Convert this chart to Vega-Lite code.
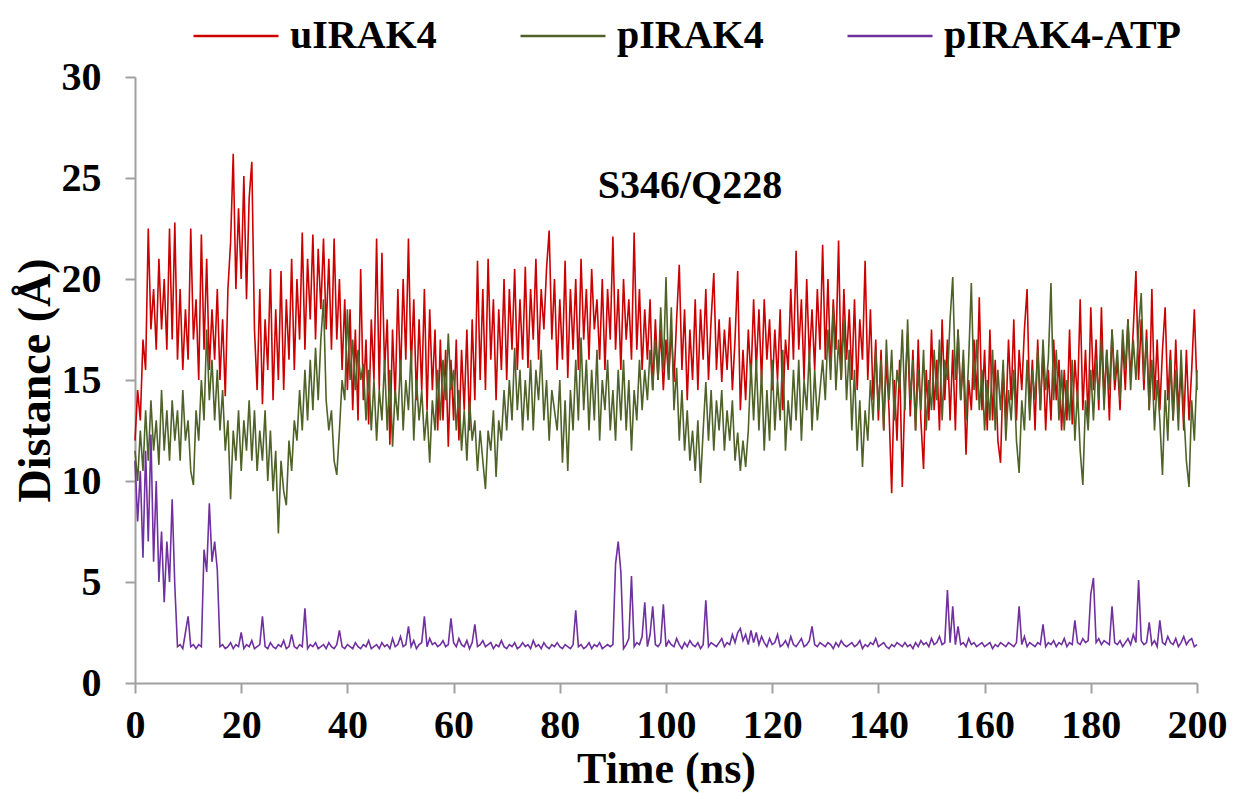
{
"$schema": "https://vega.github.io/schema/vega-lite/v6.json",
"width": 1062, "height": 606,
"autosize": {"type": "none"},
"padding": {"left": 135, "top": 77, "right": 36, "bottom": 110},
"background": "white",
"config": {"view": {"stroke": null}, "font": "Liberation Serif"},
"layer": [
{
"data": {"values": [
{"t":0,"u":12.0,"p":11.5,"a":11.0},{"t":0.5,"u":14.5,"p":10.0,"a":8.0},{"t":1,"u":13.0,"p":12.5,"a":10.5},{"t":1.5,"u":17.0,"p":10.5,"a":6.2},{"t":2,"u":15.5,"p":13.5,"a":11.5},{"t":2.5,"u":22.5,"p":11.0,"a":7.0},{"t":3,"u":17.5,"p":14.0,"a":12.3},{"t":3.5,"u":19.5,"p":11.5,"a":6.0},{"t":4,"u":16.5,"p":13.0,"a":10.0},{"t":4.5,"u":21.0,"p":10.8,"a":5.0},
{"t":5,"u":17.5,"p":14.5,"a":7.5},{"t":5.5,"u":20.0,"p":11.5,"a":4.0},{"t":6,"u":16.5,"p":13.5,"a":7.0},{"t":6.5,"u":22.5,"p":11.0,"a":5.0},{"t":7,"u":17.0,"p":14.0,"a":9.1},{"t":7.5,"u":22.8,"p":12.0,"a":4.8},{"t":8,"u":16.0,"p":13.5,"a":1.8},{"t":8.5,"u":19.5,"p":11.0,"a":1.9},{"t":9,"u":15.5,"p":14.5,"a":1.7},{"t":9.5,"u":18.5,"p":12.0,"a":2.5},
{"t":10,"u":16.0,"p":13.0,"a":3.3},{"t":10.5,"u":22.5,"p":10.5,"a":1.8},{"t":11,"u":17.0,"p":9.8,"a":1.9},{"t":11.5,"u":19.0,"p":13.5,"a":1.7},{"t":12,"u":15.0,"p":12.0,"a":1.9},{"t":12.5,"u":22.2,"p":15.0,"a":1.8},{"t":13,"u":16.5,"p":13.0,"a":6.6},{"t":13.5,"u":21.0,"p":17.5,"a":5.5},{"t":14,"u":15.5,"p":14.0,"a":8.9},{"t":14.5,"u":18.5,"p":16.0,"a":6.0},
{"t":15,"u":16.0,"p":13.0,"a":7.0},{"t":15.5,"u":19.5,"p":15.5,"a":5.6},{"t":16,"u":15.0,"p":12.5,"a":1.8},{"t":16.5,"u":18.0,"p":14.5,"a":1.9},{"t":17,"u":14.2,"p":11.5,"a":1.7},{"t":17.5,"u":19.5,"p":13.0,"a":1.8},{"t":18,"u":21.8,"p":9.1,"a":2.0},{"t":18.5,"u":26.2,"p":12.5,"a":1.7},{"t":19,"u":19.5,"p":11.0,"a":1.9},{"t":19.5,"u":23.5,"p":13.5,"a":1.8},
{"t":20,"u":20.0,"p":10.5,"a":2.5},{"t":20.5,"u":25.1,"p":13.0,"a":1.7},{"t":21,"u":19.0,"p":11.5,"a":1.9},{"t":21.5,"u":24.0,"p":14.0,"a":1.8},{"t":22,"u":25.8,"p":11.0,"a":2.1},{"t":22.5,"u":17.5,"p":13.5,"a":1.7},{"t":23,"u":14.5,"p":10.5,"a":1.8},{"t":23.5,"u":19.5,"p":12.5,"a":1.9},{"t":24,"u":13.8,"p":11.0,"a":3.3},{"t":24.5,"u":18.0,"p":13.5,"a":1.8},
{"t":25,"u":15.5,"p":10.0,"a":1.7},{"t":25.5,"u":20.5,"p":12.5,"a":2.0},{"t":26,"u":14.0,"p":9.5,"a":1.8},{"t":26.5,"u":18.5,"p":11.5,"a":1.7},{"t":27,"u":15.0,"p":7.4,"a":1.9},{"t":27.5,"u":20.4,"p":11.0,"a":1.8},{"t":28,"u":14.5,"p":9.5,"a":2.1},{"t":28.5,"u":19.0,"p":8.8,"a":1.7},{"t":29,"u":16.0,"p":12.0,"a":1.8},{"t":29.5,"u":21.0,"p":10.5,"a":2.4},
{"t":30,"u":15.5,"p":13.0,"a":1.8},{"t":30.5,"u":20.0,"p":12.0,"a":1.7},{"t":31,"u":17.0,"p":14.5,"a":1.9},{"t":31.5,"u":22.3,"p":12.5,"a":1.8},{"t":32,"u":16.5,"p":15.5,"a":3.7},{"t":32.5,"u":21.0,"p":13.0,"a":1.7},{"t":33,"u":18.0,"p":16.0,"a":1.9},{"t":33.5,"u":22.2,"p":13.5,"a":1.8},{"t":34,"u":17.0,"p":16.6,"a":2.0},{"t":34.5,"u":21.5,"p":14.0,"a":1.7},
{"t":35,"u":18.5,"p":17.0,"a":1.8},{"t":35.5,"u":22.0,"p":19.0,"a":1.9},{"t":36,"u":17.5,"p":14.0,"a":1.7},{"t":36.5,"u":21.0,"p":12.5,"a":2.0},{"t":37,"u":16.5,"p":13.5,"a":1.8},{"t":37.5,"u":22.0,"p":11.0,"a":1.7},{"t":38,"u":17.0,"p":10.3,"a":1.9},{"t":38.5,"u":20.0,"p":12.5,"a":2.6},{"t":39,"u":15.5,"p":15.0,"a":1.8},{"t":39.5,"u":19.0,"p":14.0,"a":1.7},
{"t":40,"u":14.5,"p":18.5,"a":1.9},{"t":40.5,"u":18.5,"p":15.0,"a":1.8},{"t":41,"u":13.5,"p":17.0,"a":1.7},{"t":41.5,"u":17.5,"p":14.5,"a":2.0},{"t":42,"u":13.0,"p":16.5,"a":1.8},{"t":42.5,"u":20.5,"p":15.0,"a":1.7},{"t":43,"u":14.0,"p":15.8,"a":1.9},{"t":43.5,"u":17.0,"p":13.0,"a":1.8},{"t":44,"u":12.8,"p":15.5,"a":2.1},{"t":44.5,"u":18.0,"p":12.5,"a":1.7},
{"t":45,"u":15.0,"p":15.0,"a":1.8},{"t":45.5,"u":22.0,"p":12.0,"a":1.9},{"t":46,"u":14.5,"p":14.5,"a":1.7},{"t":46.5,"u":21.3,"p":13.0,"a":2.0},{"t":47,"u":15.5,"p":16.0,"a":1.8},{"t":47.5,"u":18.0,"p":12.5,"a":1.9},{"t":48,"u":11.8,"p":15.5,"a":1.7},{"t":48.5,"u":17.5,"p":11.7,"a":2.2},{"t":49,"u":14.0,"p":14.5,"a":1.8},{"t":49.5,"u":19.5,"p":13.0,"a":1.9},
{"t":50,"u":15.0,"p":16.0,"a":2.3},{"t":50.5,"u":20.0,"p":12.5,"a":1.8},{"t":51,"u":16.0,"p":15.0,"a":1.9},{"t":51.5,"u":22.0,"p":13.5,"a":2.8},{"t":52,"u":15.5,"p":16.5,"a":1.8},{"t":52.5,"u":19.0,"p":12.0,"a":2.1},{"t":53,"u":14.0,"p":15.0,"a":1.7},{"t":53.5,"u":18.0,"p":13.0,"a":1.9},{"t":54,"u":14.5,"p":14.5,"a":2.0},{"t":54.5,"u":19.5,"p":12.0,"a":3.3},
{"t":55,"u":13.5,"p":13.5,"a":1.8},{"t":55.5,"u":18.5,"p":10.9,"a":2.2},{"t":56,"u":14.5,"p":14.0,"a":1.9},{"t":56.5,"u":17.5,"p":12.5,"a":2.0},{"t":57,"u":12.5,"p":15.5,"a":1.8},{"t":57.5,"u":17.0,"p":13.0,"a":1.9},{"t":58,"u":13.0,"p":16.0,"a":2.1},{"t":58.5,"u":16.5,"p":14.0,"a":1.8},{"t":59,"u":11.7,"p":17.3,"a":1.9},{"t":59.5,"u":16.0,"p":14.5,"a":3.2},
{"t":60,"u":13.0,"p":15.5,"a":2.0},{"t":60.5,"u":17.0,"p":12.5,"a":1.8},{"t":61,"u":12.0,"p":14.5,"a":2.2},{"t":61.5,"u":16.5,"p":11.5,"a":1.9},{"t":62,"u":13.5,"p":13.5,"a":1.8},{"t":62.5,"u":17.5,"p":11.0,"a":2.1},{"t":63,"u":12.5,"p":14.0,"a":1.7},{"t":63.5,"u":18.0,"p":12.0,"a":2.0},{"t":64,"u":14.0,"p":13.0,"a":2.9},{"t":64.5,"u":20.9,"p":10.5,"a":1.8},
{"t":65,"u":15.0,"p":12.5,"a":1.9},{"t":65.5,"u":19.5,"p":11.0,"a":2.1},{"t":66,"u":14.5,"p":9.6,"a":1.8},{"t":66.5,"u":21.0,"p":12.5,"a":1.9},{"t":67,"u":16.0,"p":11.5,"a":2.0},{"t":67.5,"u":19.0,"p":13.5,"a":1.7},{"t":68,"u":14.0,"p":10.2,"a":1.9},{"t":68.5,"u":18.5,"p":13.0,"a":1.8},{"t":69,"u":15.5,"p":12.0,"a":2.1},{"t":69.5,"u":20.0,"p":14.5,"a":1.8},
{"t":70,"u":15.0,"p":12.5,"a":1.7},{"t":70.5,"u":19.5,"p":15.0,"a":1.9},{"t":71,"u":16.5,"p":13.0,"a":1.8},{"t":71.5,"u":20.5,"p":16.6,"a":2.0},{"t":72,"u":15.5,"p":13.5,"a":1.7},{"t":72.5,"u":19.0,"p":15.5,"a":1.8},{"t":73,"u":16.0,"p":12.5,"a":2.0},{"t":73.5,"u":20.6,"p":15.0,"a":1.8},{"t":74,"u":15.6,"p":13.0,"a":1.9},{"t":74.5,"u":19.5,"p":16.0,"a":1.7},
{"t":75,"u":17.0,"p":12.5,"a":2.1},{"t":75.5,"u":21.0,"p":15.5,"a":1.8},{"t":76,"u":16.0,"p":14.0,"a":1.9},{"t":76.5,"u":19.5,"p":16.5,"a":1.7},{"t":77,"u":17.5,"p":13.0,"a":2.0},{"t":77.5,"u":20.5,"p":15.0,"a":1.8},{"t":78,"u":22.4,"p":12.0,"a":1.7},{"t":78.5,"u":17.0,"p":14.5,"a":1.9},{"t":79,"u":20.0,"p":13.5,"a":1.8},{"t":79.5,"u":15.5,"p":12.5,"a":2.0},
{"t":80,"u":19.0,"p":15.0,"a":1.8},{"t":80.5,"u":16.0,"p":10.9,"a":1.7},{"t":81,"u":20.9,"p":14.0,"a":1.9},{"t":81.5,"u":15.1,"p":10.5,"a":1.8},{"t":82,"u":19.5,"p":14.5,"a":1.7},{"t":82.5,"u":16.5,"p":12.5,"a":1.9},{"t":83,"u":20.0,"p":16.0,"a":3.6},{"t":83.5,"u":15.5,"p":13.0,"a":1.8},{"t":84,"u":21.0,"p":17.1,"a":1.9},{"t":84.5,"u":17.0,"p":13.5,"a":1.7},
{"t":85,"u":19.5,"p":16.0,"a":1.8},{"t":85.5,"u":16.0,"p":12.5,"a":2.0},{"t":86,"u":20.5,"p":15.5,"a":1.7},{"t":86.5,"u":17.5,"p":13.0,"a":1.9},{"t":87,"u":19.0,"p":16.5,"a":1.8},{"t":87.5,"u":16.0,"p":12.0,"a":2.0},{"t":88,"u":20.0,"p":15.0,"a":1.7},{"t":88.5,"u":15.5,"p":13.5,"a":1.8},{"t":89,"u":19.5,"p":16.0,"a":1.9},{"t":89.5,"u":17.0,"p":12.5,"a":1.8},
{"t":90,"u":22.1,"p":14.5,"a":1.9},{"t":90.5,"u":16.5,"p":12.0,"a":5.9},{"t":91,"u":19.5,"p":15.5,"a":7.0},{"t":91.5,"u":15.5,"p":13.0,"a":5.5},{"t":92,"u":20.0,"p":16.0,"a":1.7},{"t":92.5,"u":17.0,"p":12.5,"a":1.9},{"t":93,"u":19.0,"p":15.0,"a":2.2},{"t":93.5,"u":16.0,"p":11.5,"a":5.3},{"t":94,"u":22.3,"p":14.5,"a":1.8},{"t":94.5,"u":16.5,"p":13.0,"a":2.0},
{"t":95,"u":19.5,"p":16.0,"a":1.9},{"t":95.5,"u":15.5,"p":13.5,"a":2.3},{"t":96,"u":18.5,"p":15.5,"a":4.0},{"t":96.5,"u":16.0,"p":14.0,"a":1.8},{"t":97,"u":19.0,"p":16.5,"a":2.4},{"t":97.5,"u":14.5,"p":14.5,"a":3.8},{"t":98,"u":18.0,"p":17.0,"a":1.9},{"t":98.5,"u":15.0,"p":15.0,"a":1.8},{"t":99,"u":17.5,"p":18.6,"a":2.0},{"t":99.5,"u":14.5,"p":15.5,"a":3.9},
{"t":100,"u":17.0,"p":20.1,"a":1.8},{"t":100.5,"u":15.0,"p":15.0,"a":2.1},{"t":101,"u":17.5,"p":18.6,"a":1.9},{"t":101.5,"u":14.9,"p":13.5,"a":1.8},{"t":102,"u":18.0,"p":15.6,"a":2.2},{"t":102.5,"u":20.7,"p":12.0,"a":1.9},{"t":103,"u":15.5,"p":14.5,"a":1.7},{"t":103.5,"u":18.5,"p":11.5,"a":2.0},{"t":104,"u":14.0,"p":13.5,"a":1.8},{"t":104.5,"u":17.5,"p":11.0,"a":2.1},
{"t":105,"u":15.0,"p":12.5,"a":1.9},{"t":105.5,"u":19.0,"p":10.5,"a":1.8},{"t":106,"u":14.5,"p":13.0,"a":2.0},{"t":106.5,"u":18.5,"p":9.9,"a":1.7},{"t":107,"u":16.0,"p":12.5,"a":1.9},{"t":107.5,"u":19.5,"p":14.9,"a":4.1},{"t":108,"u":15.0,"p":12.0,"a":1.8},{"t":108.5,"u":18.0,"p":14.5,"a":2.0},{"t":109,"u":20.3,"p":11.5,"a":1.9},{"t":109.5,"u":15.5,"p":14.0,"a":1.8},
{"t":110,"u":18.0,"p":12.5,"a":2.0},{"t":110.5,"u":14.9,"p":14.5,"a":2.2},{"t":111,"u":17.5,"p":11.5,"a":1.8},{"t":111.5,"u":15.5,"p":13.5,"a":2.0},{"t":112,"u":18.1,"p":12.0,"a":1.9},{"t":112.5,"u":14.5,"p":14.0,"a":2.4},{"t":113,"u":17.0,"p":11.0,"a":2.0},{"t":113.5,"u":20.4,"p":12.4,"a":2.5},{"t":114,"u":13.5,"p":10.5,"a":2.7},{"t":114.5,"u":16.5,"p":12.0,"a":2.1},
{"t":115,"u":14.0,"p":10.7,"a":2.4},{"t":115.5,"u":17.5,"p":12.5,"a":1.9},{"t":116,"u":15.0,"p":15.8,"a":2.6},{"t":116.5,"u":19.0,"p":13.0,"a":2.0},{"t":117,"u":15.5,"p":16.0,"a":2.5},{"t":117.5,"u":18.5,"p":12.5,"a":1.9},{"t":118,"u":14.9,"p":15.5,"a":2.3},{"t":118.5,"u":19.0,"p":11.5,"a":2.0},{"t":119,"u":16.0,"p":14.5,"a":1.8},{"t":119.5,"u":18.0,"p":12.0,"a":2.2},
{"t":120,"u":14.5,"p":16.0,"a":1.9},{"t":120.5,"u":17.5,"p":12.5,"a":2.0},{"t":121,"u":15.0,"p":15.0,"a":2.4},{"t":121.5,"u":18.5,"p":13.0,"a":1.8},{"t":122,"u":13.5,"p":16.5,"a":1.9},{"t":122.5,"u":17.0,"p":11.5,"a":2.1},{"t":123,"u":15.5,"p":14.0,"a":1.8},{"t":123.5,"u":19.5,"p":12.5,"a":2.3},{"t":124,"u":16.0,"p":15.5,"a":1.9},{"t":124.5,"u":21.4,"p":13.0,"a":1.8},
{"t":125,"u":16.5,"p":16.0,"a":2.0},{"t":125.5,"u":19.0,"p":12.0,"a":2.2},{"t":126,"u":15.0,"p":15.0,"a":1.8},{"t":126.5,"u":20.0,"p":13.5,"a":1.9},{"t":127,"u":16.0,"p":16.5,"a":2.1},{"t":127.5,"u":18.5,"p":12.5,"a":2.8},{"t":128,"u":15.5,"p":15.5,"a":1.9},{"t":128.5,"u":19.5,"p":13.0,"a":1.8},{"t":129,"u":16.5,"p":14.5,"a":2.0},{"t":129.5,"u":21.7,"p":16.0,"a":1.9},
{"t":130,"u":16.0,"p":14.0,"a":1.8},{"t":130.5,"u":20.0,"p":17.5,"a":2.0},{"t":131,"u":15.5,"p":15.0,"a":1.9},{"t":131.5,"u":19.0,"p":18.6,"a":1.7},{"t":132,"u":16.5,"p":14.5,"a":2.0},{"t":132.5,"u":21.9,"p":17.0,"a":1.8},{"t":133,"u":15.0,"p":15.0,"a":2.1},{"t":133.5,"u":19.5,"p":18.0,"a":1.9},{"t":134,"u":16.0,"p":14.0,"a":1.8},{"t":134.5,"u":18.5,"p":16.5,"a":1.9},
{"t":135,"u":15.0,"p":12.5,"a":2.0},{"t":135.5,"u":19.0,"p":15.5,"a":1.8},{"t":136,"u":14.5,"p":11.5,"a":1.9},{"t":136.5,"u":18.0,"p":14.0,"a":2.1},{"t":137,"u":16.0,"p":10.7,"a":1.7},{"t":137.5,"u":20.9,"p":13.5,"a":1.9},{"t":138,"u":15.0,"p":12.0,"a":1.8},{"t":138.5,"u":18.5,"p":15.0,"a":2.0},{"t":139,"u":14.0,"p":13.0,"a":1.9},{"t":139.5,"u":17.0,"p":16.5,"a":2.2},
{"t":140,"u":13.0,"p":13.5,"a":1.8},{"t":140.5,"u":16.5,"p":16.0,"a":1.9},{"t":141,"u":12.5,"p":12.5,"a":2.0},{"t":141.5,"u":16.0,"p":17.0,"a":1.8},{"t":142,"u":13.5,"p":14.0,"a":1.7},{"t":142.5,"u":9.4,"p":16.5,"a":1.9},{"t":143,"u":15.0,"p":13.0,"a":1.8},{"t":143.5,"u":12.0,"p":15.5,"a":2.0},{"t":144,"u":16.0,"p":14.5,"a":1.9},{"t":144.5,"u":9.7,"p":17.5,"a":1.8},
{"t":145,"u":14.5,"p":13.5,"a":2.0},{"t":145.5,"u":17.3,"p":18.0,"a":1.8},{"t":146,"u":13.2,"p":14.0,"a":1.9},{"t":146.5,"u":16.5,"p":16.0,"a":1.7},{"t":147,"u":12.5,"p":12.5,"a":2.0},{"t":147.5,"u":17.0,"p":15.5,"a":1.8},{"t":148,"u":13.0,"p":13.5,"a":2.1},{"t":148.5,"u":10.6,"p":16.5,"a":1.9},{"t":149,"u":15.5,"p":12.5,"a":2.0},{"t":149.5,"u":13.0,"p":15.0,"a":1.8},
{"t":150,"u":17.5,"p":13.5,"a":2.2},{"t":150.5,"u":13.5,"p":16.5,"a":1.9},{"t":151,"u":16.0,"p":14.0,"a":2.0},{"t":151.5,"u":12.5,"p":17.0,"a":2.3},{"t":152,"u":18.0,"p":13.0,"a":1.9},{"t":152.5,"u":14.0,"p":16.0,"a":2.0},{"t":153,"u":17.0,"p":15.0,"a":4.6},{"t":153.5,"u":13.0,"p":18.0,"a":2.0},{"t":154,"u":16.5,"p":20.1,"a":3.8},{"t":154.5,"u":12.5,"p":15.0,"a":1.9},
{"t":155,"u":17.5,"p":17.5,"a":2.8},{"t":155.5,"u":14.0,"p":14.0,"a":1.9},{"t":156,"u":16.0,"p":16.5,"a":2.0},{"t":156.5,"u":11.3,"p":13.0,"a":1.8},{"t":157,"u":15.0,"p":16.0,"a":2.2},{"t":157.5,"u":13.5,"p":19.8,"a":1.9},{"t":158,"u":17.0,"p":14.5,"a":2.0},{"t":158.5,"u":14.0,"p":17.0,"a":1.8},{"t":159,"u":19.1,"p":13.5,"a":1.9},{"t":159.5,"u":13.5,"p":15.5,"a":2.0},
{"t":160,"u":16.5,"p":12.5,"a":1.8},{"t":160.5,"u":12.5,"p":15.0,"a":1.9},{"t":161,"u":17.5,"p":13.0,"a":2.0},{"t":161.5,"u":13.0,"p":16.5,"a":1.7},{"t":162,"u":16.0,"p":12.5,"a":1.9},{"t":162.5,"u":12.0,"p":15.5,"a":1.8},{"t":163,"u":10.9,"p":13.5,"a":2.0},{"t":163.5,"u":15.5,"p":16.0,"a":1.9},{"t":164,"u":13.0,"p":12.0,"a":1.8},{"t":164.5,"u":17.0,"p":14.5,"a":2.0},
{"t":165,"u":14.0,"p":13.0,"a":1.9},{"t":165.5,"u":18.0,"p":15.5,"a":1.8},{"t":166,"u":13.0,"p":12.0,"a":2.0},{"t":166.5,"u":16.5,"p":10.4,"a":3.8},{"t":167,"u":14.5,"p":14.0,"a":1.9},{"t":167.5,"u":17.5,"p":12.5,"a":2.3},{"t":168,"u":19.5,"p":16.0,"a":1.8},{"t":168.5,"u":13.5,"p":13.0,"a":2.0},{"t":169,"u":16.0,"p":15.5,"a":1.9},{"t":169.5,"u":12.5,"p":14.0,"a":1.8},
{"t":170,"u":17.0,"p":16.5,"a":2.0},{"t":170.5,"u":13.5,"p":13.5,"a":1.9},{"t":171,"u":16.5,"p":17.0,"a":2.9},{"t":171.5,"u":12.5,"p":14.5,"a":1.8},{"t":172,"u":15.5,"p":16.0,"a":2.0},{"t":172.5,"u":13.0,"p":19.8,"a":1.9},{"t":173,"u":17.0,"p":14.0,"a":2.1},{"t":173.5,"u":14.0,"p":16.5,"a":1.8},{"t":174,"u":16.0,"p":13.0,"a":2.0},{"t":174.5,"u":12.5,"p":15.5,"a":1.9},
{"t":175,"u":15.5,"p":12.5,"a":2.2},{"t":175.5,"u":13.0,"p":15.0,"a":1.8},{"t":176,"u":17.5,"p":13.0,"a":2.0},{"t":176.5,"u":12.8,"p":16.0,"a":1.9},{"t":177,"u":16.0,"p":12.0,"a":3.1},{"t":177.5,"u":14.0,"p":14.5,"a":2.0},{"t":178,"u":19.0,"p":11.5,"a":1.9},{"t":178.5,"u":13.5,"p":9.8,"a":2.2},{"t":179,"u":16.5,"p":14.0,"a":2.0},{"t":179.5,"u":13.0,"p":12.5,"a":2.1},
{"t":180,"u":18.6,"p":15.5,"a":4.4},{"t":180.5,"u":14.5,"p":13.0,"a":5.2},{"t":181,"u":17.0,"p":16.0,"a":2.0},{"t":181.5,"u":13.5,"p":14.0,"a":2.2},{"t":182,"u":18.6,"p":17.0,"a":1.9},{"t":182.5,"u":14.0,"p":13.5,"a":2.1},{"t":183,"u":16.5,"p":16.5,"a":2.0},{"t":183.5,"u":13.0,"p":14.5,"a":1.9},{"t":184,"u":17.5,"p":17.5,"a":3.8},{"t":184.5,"u":14.5,"p":15.0,"a":2.0},
{"t":185,"u":16.0,"p":16.5,"a":1.9},{"t":185.5,"u":13.5,"p":14.0,"a":2.1},{"t":186,"u":17.0,"p":17.5,"a":1.8},{"t":186.5,"u":14.5,"p":15.5,"a":2.0},{"t":187,"u":18.0,"p":18.0,"a":2.2},{"t":187.5,"u":15.0,"p":14.5,"a":1.9},{"t":188,"u":17.5,"p":17.0,"a":2.4},{"t":188.5,"u":20.4,"p":15.0,"a":2.0},{"t":189,"u":15.0,"p":17.5,"a":5.1},{"t":189.5,"u":18.0,"p":19.3,"a":2.1},
{"t":190,"u":14.5,"p":15.0,"a":1.9},{"t":190.5,"u":17.5,"p":17.0,"a":2.0},{"t":191,"u":13.5,"p":13.5,"a":3.0},{"t":191.5,"u":19.5,"p":16.0,"a":1.9},{"t":192,"u":14.0,"p":12.5,"a":2.1},{"t":192.5,"u":17.0,"p":15.0,"a":1.8},{"t":193,"u":13.5,"p":13.0,"a":3.1},{"t":193.5,"u":16.5,"p":10.3,"a":2.0},{"t":194,"u":18.6,"p":14.5,"a":1.9},{"t":194.5,"u":14.0,"p":12.0,"a":2.3},
{"t":195,"u":16.5,"p":16.0,"a":2.0},{"t":195.5,"u":13.0,"p":13.0,"a":1.9},{"t":196,"u":17.0,"p":15.5,"a":2.2},{"t":196.5,"u":13.5,"p":12.5,"a":1.8},{"t":197,"u":15.5,"p":16.5,"a":2.0},{"t":197.5,"u":12.5,"p":13.5,"a":2.3},{"t":198,"u":16.5,"p":11.0,"a":1.9},{"t":198.5,"u":13.0,"p":9.7,"a":2.1},{"t":199,"u":15.5,"p":14.0,"a":2.2},{"t":199.5,"u":18.5,"p":12.0,"a":1.8},
{"t":200,"u":14.5,"p":15.5,"a":1.9}
]},
"transform": [{"fold": ["u", "p", "a"], "as": ["series", "value"]}],
"mark": {"type": "line", "strokeWidth": 1.6},
"encoding": {
"x": {"field": "t", "type": "quantitative", "scale": {"domain": [0, 200], "nice": false},
 "axis": {"values": [0,20,40,60,80,100,120,140,160,180,200], "title": "Time (ns)", "grid": false,
  "domainColor": "#A0A0A0", "tickColor": "#A0A0A0", "domainWidth": 2, "tickWidth": 2, "tickSize": 10,
  "labelFont": "Liberation Serif", "labelFontWeight": "bold", "labelFontSize": 40, "labelColor": "black", "labelPadding": 12,
  "labelFlush": false, "labelOverlap": false,
  "titleFont": "Liberation Serif", "titleFontWeight": "bold", "titleFontSize": 44, "titleColor": "black", "titlePadding": 2}},
"y": {"field": "value", "type": "quantitative", "scale": {"domain": [0, 30], "nice": false},
 "axis": {"values": [0,5,10,15,20,25,30], "title": "Distance (Å)", "grid": false,
  "domainColor": "#A0A0A0", "tickColor": "#A0A0A0", "domainWidth": 2, "tickWidth": 2, "tickSize": 10,
  "labelFont": "Liberation Serif", "labelFontWeight": "bold", "labelFontSize": 40, "labelColor": "black", "labelPadding": 24,
  "labelFlush": false, "labelOverlap": false,
  "titleFont": "Liberation Serif", "titleFontWeight": "bold", "titleFontSize": 46, "titleColor": "black", "titlePadding": 2}},
"color": {"field": "series", "type": "nominal", "sort": ["u", "p", "a"],
 "scale": {"domain": ["u", "p", "a"], "range": ["#CC0000", "#4F6228", "#7030A0"]},
 "legend": {"orient": "none", "legendX": 57, "legendY": -85, "direction": "horizontal", "columns": 3, "title": null,
  "symbolType": "stroke", "symbolSize": 7225, "symbolStrokeWidth": 2.5,
  "labelExpr": "datum.value == 'u' ? 'uIRAK4' : datum.value == 'p' ? 'pIRAK4' : 'pIRAK4-ATP'",
  "labelFont": "Liberation Serif", "labelFontWeight": "bold", "labelFontSize": 40, "labelColor": "black",
  "labelOffset": 10, "columnPadding": 78, "labelLimit": 400}}
}
},
{
"data": {"values": [{}]},
"mark": {"type": "text", "font": "Liberation Serif", "fontWeight": "bold", "fontSize": 40, "baseline": "alphabetic", "align": "center", "color": "black"},
"encoding": {"x": {"datum": 104.5, "type": "quantitative"}, "y": {"datum": 24, "type": "quantitative"}, "text": {"value": "S346/Q228"}}
}
]
}
